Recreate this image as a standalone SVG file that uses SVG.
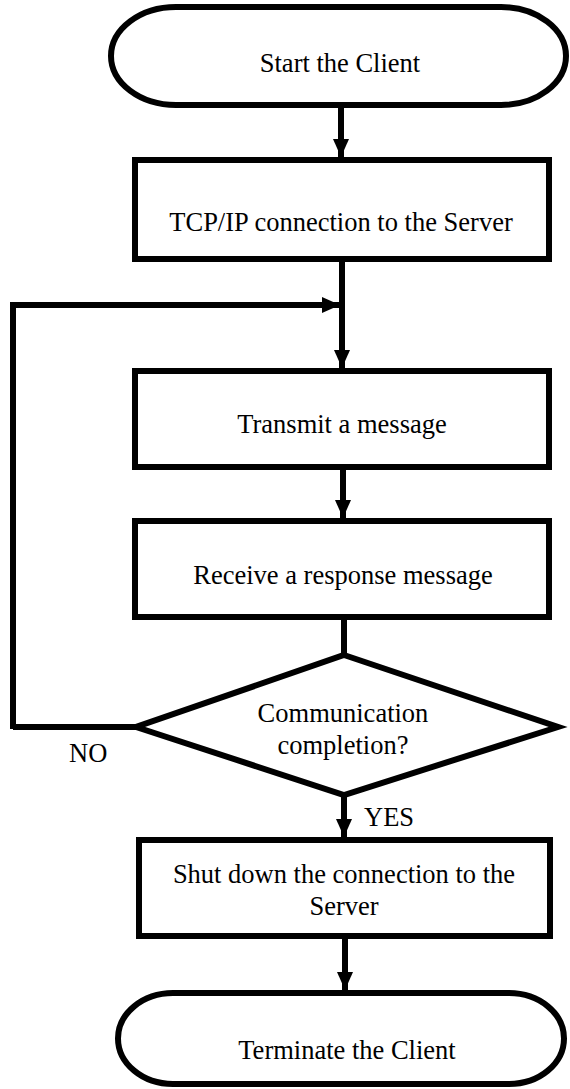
<svg xmlns="http://www.w3.org/2000/svg" width="570" height="1089" viewBox="0 0 570 1089">
<style>
.shape{fill:#fff;stroke:#000;stroke-width:6}
.conn{fill:none;stroke:#000;stroke-width:6}
.t{font-family:"Liberation Serif","Times New Roman",serif;font-size:26.5px;fill:#000;text-anchor:middle}
.lbl{font-family:"Liberation Serif","Times New Roman",serif;font-size:26.5px;fill:#000}
</style>
<defs>
<marker id="ah" markerUnits="userSpaceOnUse" markerWidth="18" markerHeight="18" viewBox="0 0 18 18" refX="18" refY="9" orient="auto">
<path d="M0,1 L18,9 L0,17 Z" fill="#000"/>
</marker>
</defs>
<rect width="570" height="1089" fill="#fff"/>
<g id="connectors">
<path class="conn" d="M341,108 V157" marker-end="url(#ah)"/>
<path class="conn" d="M342,262 V368" marker-end="url(#ah)"/>
<path class="conn" d="M13,729 V305 H340" marker-end="url(#ah)"/>
<path class="conn" d="M136,727 H13"/>
<path class="conn" d="M343,470 V518" marker-end="url(#ah)"/>
<path class="conn" d="M344,620 V653"/>
<path class="conn" d="M344,797 V837" marker-end="url(#ah)"/>
<path class="conn" d="M345,939 V990" marker-end="url(#ah)"/>
</g>
<g id="start">
<path class="shape" d="M176,7 H501 A65,49 0 0 1 501,105 H176 A65,49 0 0 1 176,7 Z"/>
<text class="t" x="340" y="72">Start the Client</text>
</g>
<g id="tcp">
<rect class="shape" x="135" y="160" width="414" height="99"/>
<text class="t" x="341" y="231">TCP/IP connection to the Server</text>
</g>
<g id="transmit">
<rect class="shape" x="135" y="371" width="414" height="96"/>
<text class="t" x="342" y="433">Transmit a message</text>
</g>
<g id="receive">
<rect class="shape" x="135" y="521" width="414" height="96"/>
<text class="t" x="343" y="584">Receive a response message</text>
</g>
<g id="decision">
<polygon class="shape" stroke-width="5" stroke-linejoin="miter" points="344,655 558,727 344,795 136,727"/>
<text class="t" x="343" y="722">Communication</text>
<text class="t" x="343" y="754">completion?</text>
<text class="lbl" x="69" y="762">NO</text>
<text class="lbl" x="364" y="826">YES</text>
</g>
<g id="shutdown">
<rect class="shape" x="139" y="840" width="411" height="96"/>
<text class="t" x="344" y="883">Shut down the connection to the</text>
<text class="t" x="344" y="915">Server</text>
</g>
<g id="terminate">
<path class="shape" d="M173,993 H509 A55,45.5 0 0 1 509,1084 H173 A55,45.5 0 0 1 173,993 Z"/>
<text class="t" x="347" y="1059">Terminate the Client</text>
</g>
</svg>
